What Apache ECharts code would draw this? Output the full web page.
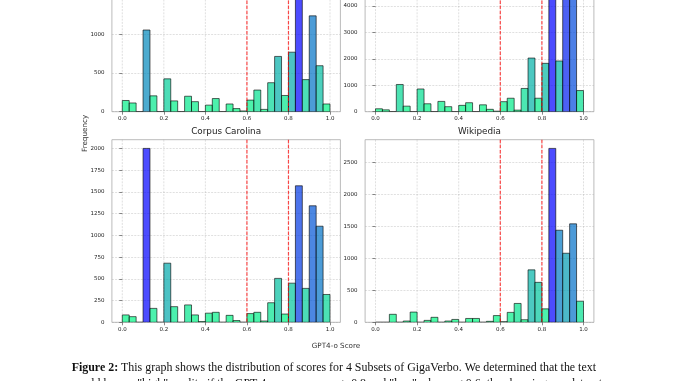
<!DOCTYPE html>
<html><head><meta charset="utf-8">
<script src="https://cdn.jsdelivr.net/npm/echarts@6/dist/echarts.min.js"></script>
<style>html,body{margin:0;padding:0;background:#fff}#c{width:678px;height:381px}</style>
</head><body><div id="c"></div>
<script>
// ---- data ----
const binRange = [0, 1];
const binCount = 30;
const topLeftCounts   = [145,113,0,1057,205,0,425,140,0,200,130,0,85,170,0,100,40,10,150,280,30,375,715,210,770,2250,415,1240,595,100];
const topRightCounts  = [110,70,0,1030,210,0,860,300,0,390,190,0,240,340,0,260,90,20,380,510,60,880,2030,510,1830,6580,1920,5800,4700,800];
const carolinaCounts  = [85,65,0,2000,160,0,680,180,0,200,85,8,105,115,0,80,20,0,100,115,15,225,505,95,450,1570,390,1340,1105,320];
const wikipediaCounts = [0,0,125,0,20,160,0,30,78,0,20,45,0,60,60,0,15,105,10,155,295,40,820,625,210,2720,1440,1080,1540,330];
const panelTitles = ['', '', 'Corpus Carolina', 'Wikipedia'];
const xTickValues = [0, 0.2, 0.4, 0.6, 0.8, 1.0];
const thresholdLines = [0.6, 0.8];
const yTickTopLeft = [0, 500, 1000, 1500, 2000];
const yTickTopRight = [0, 1000, 2000, 3000, 4000, 5000, 6000];
const yTickCarolina = [0, 250, 500, 750, 1000, 1250, 1500, 1750, 2000];
const yTickWikipedia = [0, 500, 1000, 1500, 2000, 2500];
const xLabel = 'GPT4-o Score';
const yLabel = 'Frequency';
const captionBold = 'Figure 2:';
const captionLine1 = ' This graph shows the distribution of scores for 4 Subsets of GigaVerbo. We determined that the text';
const captionLine2 = 'would have a "high" quality if the GPT-4o scores were \u03c4 \u2265 0.8 and "low" when \u03c4 \u2264 0.6, thus keeping our dataset';

// ---- layout ----
const FONT = "'DejaVu Sans'";
const panels = [
  {counts: topLeftCounts,   yt: yTickTopLeft,   left: 111.9, width: 228.5, bottom: 111.7},
  {counts: topRightCounts,  yt: yTickTopRight,  left: 365.1, width: 228.8, bottom: 111.7},
  {counts: carolinaCounts,  yt: yTickCarolina,  left: 111.9, width: 228.5, bottom: 322.3},
  {counts: wikipediaCounts, yt: yTickWikipedia, left: 365.1, width: 228.8, bottom: 322.3}
];
const H = 182.6;
const edges = [];
for (let k = 0; k <= binCount; k++) edges.push(binRange[0] + (binRange[1] - binRange[0]) * k / binCount);

function winterR(t) {
  const g = Math.round(255 * (1 - t)), b = Math.round(255 * (0.5 + 0.5 * t));
  return 'rgba(0,' + g + ',' + b + ',0.7)';
}

const grids = [], xAxes = [], yAxes = [], series = [], graphics = [];
panels.forEach((p, i) => {
  const maxC = Math.max.apply(null, p.counts);
  const yMax = maxC * 1.05;
  grids.push({left: p.left, top: p.bottom - H, width: p.width, height: H,
    containLabel: false, outerBoundsMode: 'none',
    show: true, borderColor: '#aaaaaa', borderWidth: 0.8, backgroundColor: 'transparent'});
  xAxes.push({type: 'value', gridIndex: i, min: -0.05, max: 1.05,
    axisLine: {show: false},
    axisTick: {show: true, customValues: xTickValues, length: 3, lineStyle: {color: '#555', width: 0.7}},
    axisLabel: {customValues: xTickValues, formatter: v => v.toFixed(1), fontSize: 5.5, color: '#222', margin: 4.3, fontFamily: FONT},
    splitLine: {show: false}});
  yAxes.push({type: 'value', gridIndex: i, min: 0, max: yMax, interval: p.yt[1] - p.yt[0],
    axisLine: {show: false},
    axisTick: {show: true, customValues: p.yt, length: 3, lineStyle: {color: '#555', width: 0.7}},
    axisLabel: {customValues: p.yt, formatter: v => String(v), fontSize: 5.5, color: '#222', margin: 7.5, fontFamily: FONT},
    splitLine: {show: true, lineStyle: {type: [2, 1.2], color: 'rgba(160,160,160,0.55)', width: 0.6}}});
  // vertical grid lines
  series.push({type: 'custom', xAxisIndex: i, yAxisIndex: i, z: 1, silent: true,
    data: xTickValues.map(v => [v]), encode: {x: 0},
    renderItem(params, api) {
      const cs = params.coordSys; const x = api.coord([api.value(0), 0])[0];
      return {type: 'line', shape: {x1: x, y1: cs.y, x2: x, y2: cs.y + cs.height},
        style: {stroke: 'rgba(160,160,160,0.55)', lineWidth: 0.6, lineDash: [2, 1.2]}};
    }});
  // histogram bars
  series.push({type: 'custom', xAxisIndex: i, yAxisIndex: i, z: 2, clip: true, silent: true,
    data: p.counts.map((c, k) => [edges[k], edges[k + 1], c]), encode: {x: [0, 1], y: 2},
    renderItem(params, api) {
      const v = api.value(2);
      const p0 = api.coord([api.value(0), 0]), p1 = api.coord([api.value(1), v]);
      return {type: 'rect', shape: {x: p0[0], y: p1[1], width: p1[0] - p0[0], height: p0[1] - p1[1]},
        style: {fill: winterR(v / maxC), stroke: 'rgba(0,0,0,0.68)', lineWidth: 0.9}};
    }});
  // threshold lines
  series.push({type: 'custom', xAxisIndex: i, yAxisIndex: i, z: 3, silent: true,
    data: thresholdLines.map(v => [v]), encode: {x: 0},
    renderItem(params, api) {
      const cs = params.coordSys; const x = api.coord([api.value(0), 0])[0];
      return {type: 'line', shape: {x1: x, y1: cs.y, x2: x, y2: cs.y + cs.height},
        style: {stroke: 'rgba(255,0,0,0.7)', lineWidth: 1.2, lineDash: [3.5, 1.6]}};
    }});
  if (panelTitles[i]) {
    graphics.push({type: 'text', x: p.left + p.width / 2, y: p.bottom - H - 7.6,
      style: {text: panelTitles[i], font: '8.8px ' + FONT, fill: '#222', align: 'center', verticalAlign: 'middle'}});
  }
});

graphics.push({type: 'text', x: 336, y: 345.7,
  style: {text: xLabel, font: '7.2px ' + FONT, fill: '#333', align: 'center', verticalAlign: 'middle'}});
graphics.push({type: 'text', x: 85, y: 133.4, rotation: Math.PI / 2,
  style: {text: yLabel, font: '7.2px ' + FONT, fill: '#333', align: 'center', verticalAlign: 'middle'}});

// caption (fit to its measured width)
const ctx = document.createElement('canvas').getContext('2d');
function tw(font, s) { ctx.font = font; return ctx.measureText(s).width; }
const SERIF = "'Liberation Serif'";
let fs = 12;
const w1 = tw('bold ' + fs + 'px ' + SERIF, captionBold) + tw(fs + 'px ' + SERIF, captionLine1);
fs = fs * 525 / w1;
graphics.push({type: 'text', x: 71.7, y: 368.3,
  style: {text: '{b|' + captionBold + '}' + captionLine1, font: fs + 'px ' + SERIF, fill: '#111',
    verticalAlign: 'middle', align: 'left',
    rich: {b: {fontWeight: 'bold', fontSize: fs, fontFamily: SERIF, fill: '#111'}}}});
graphics.push({type: 'text', x: 70.7, y: 384,
  style: {text: captionLine2, font: fs + 'px ' + SERIF, fill: '#111', verticalAlign: 'middle', align: 'left'}});

const chart = echarts.init(document.getElementById('c'), null, {renderer: 'canvas'});
chart.setOption({animation: false, grid: grids, xAxis: xAxes, yAxis: yAxes, series: series, graphic: graphics});
</script></body></html>
